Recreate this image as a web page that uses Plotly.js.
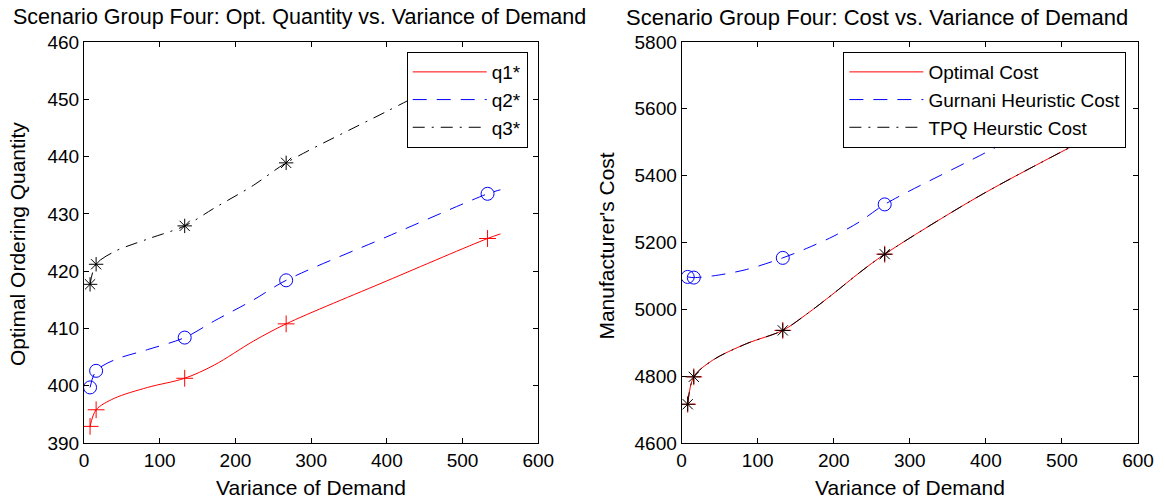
<!DOCTYPE html>
<html>
<head>
<meta charset="utf-8">
<script src="https://cdn.plot.ly/plotly-3.0.1.min.js"></script>
<style>
html, body { margin: 0; padding: 0; background: #fff; }
#chart { width: 1165px; height: 500px; }
</style>
</head>
<body>
<div id="chart"></div>
<script>
// ---------- Left panel: optimal ordering quantities ----------
var varX = [8, 16, 133, 267, 533];
var q1 = [392.9, 395.8, 401.3, 410.8, 425.7];
var q2 = [399.7, 402.6, 408.4, 418.4, 433.5];
var q3 = [417.7, 421.2, 427.9, 438.9, 456.8];

// points read along the drawn (smooth) curves
var curveX = [8, 16, 40, 84, 133, 172, 224, 267, 400, 533, 550];
var q1Curve = [392.9, 395.8, 397.8, 399.7, 401.3, 403.6, 407.8, 410.8, 418.3, 425.7, 426.5];
var q2Curve = [399.7, 402.6, 404.5, 406.3, 408.4, 411.3, 415.0, 418.4, 426.0, 433.5, 434.2];
var q3Curve = [417.7, 421.2, 423.4, 425.6, 427.9, 431.0, 435.0, 438.9, 447.9, 456.8, 457.9];

// ---------- Right panel: costs ----------
var costX = [8, 16, 133, 267, 533];
var optCost = [4716, 4798, 4937, 5165, 5511];
var gurnaniCost = [5097, 5095, 5154, 5314, 5625];
var tpqCost = [4716, 4798, 4937, 5165, 5511];

var costCurveX = [8, 16, 41, 85, 133, 164, 199, 234, 267, 392, 533];
var optCostCurve = [4716, 4798, 4848, 4897, 4937, 4985, 5046, 5110, 5165, 5340, 5511];
var gurnaniCurve = [5097, 5095, 5100, 5119, 5154, 5182, 5218, 5262, 5314, 5460, 5625];
var tpqCostCurve = [4716, 4798, 4848, 4897, 4937, 4985, 5046, 5110, 5165, 5340, 5511];

var leftLegend = ['q1*', 'q2*', 'q3*'];
var rightLegend = ['Optimal Cost', 'Gurnani Heuristic Cost', 'TPQ Heurstic Cost'];

var FONT = 'Liberation Sans, Arial, Helvetica, sans-serif';
var RED = '#ff0000', BLUE = '#0000ff', BLACK = '#000000';
var DASH = '14px,10px';
var DASHDOT = '12px,7px,2px,7px';

function lineTrace(x, y, name, color, dash, xa, ya, leg) {
  return {x: x, y: y, name: name, type: 'scatter', mode: 'lines',
    line: {color: color, width: 1, dash: dash, shape: 'spline', smoothing: 0.9},
    xaxis: xa, yaxis: ya, legend: leg, hoverinfo: 'skip'};
}
function markTrace(x, y, color, symbol, size, xa, ya) {
  return {x: x, y: y, type: 'scatter', mode: 'markers', showlegend: false,
    marker: {symbol: symbol, size: size, color: color, line: {color: color, width: 1}},
    xaxis: xa, yaxis: ya, hoverinfo: 'skip'};
}

var traces = [
  lineTrace(curveX, q1Curve, leftLegend[0], RED, 'solid', 'x', 'y', 'legend'),
  lineTrace(curveX, q2Curve, leftLegend[1], BLUE, DASH, 'x', 'y', 'legend'),
  lineTrace(curveX, q3Curve, leftLegend[2], BLACK, DASHDOT, 'x', 'y', 'legend'),
  markTrace(varX, q1, RED, 'cross-thin-open', 12, 'x', 'y'),
  markTrace(varX, q2, BLUE, 'circle-open', 13, 'x', 'y'),
  markTrace(varX, q3, BLACK, 'asterisk-open', 12, 'x', 'y'),

  lineTrace(costCurveX, optCostCurve, rightLegend[0], RED, 'solid', 'x2', 'y2', 'legend2'),
  lineTrace(costCurveX, gurnaniCurve, rightLegend[1], BLUE, DASH, 'x2', 'y2', 'legend2'),
  lineTrace(costCurveX, tpqCostCurve, rightLegend[2], BLACK, DASHDOT, 'x2', 'y2', 'legend2'),
  markTrace(costX, optCost, RED, 'cross-thin-open', 12, 'x2', 'y2'),
  markTrace(costX, gurnaniCost, BLUE, 'circle-open', 13, 'x2', 'y2'),
  markTrace(costX, tpqCost, BLACK, 'asterisk-open', 12, 'x2', 'y2')
];

function axisBase(extra) {
  var a = {showgrid: false, zeroline: false, showline: true, linecolor: '#000', linewidth: 1,
    mirror: 'ticks', ticks: 'inside', ticklen: 5, tickwidth: 1, tickcolor: '#000',
    tickfont: {family: FONT, size: 19, color: '#000'}, fixedrange: true};
  for (var k in extra) a[k] = extra[k];
  return a;
}

var legendBase = {bgcolor: '#ffffff', bordercolor: '#000', borderwidth: 1,
  font: {family: FONT, size: 19, color: '#000'}, xanchor: 'right', yanchor: 'top',
  tracegroupgap: 0, itemwidth: 74};

function ann(text, x, y, angle, size) {
  return {text: text, xref: 'paper', yref: 'paper', x: x, y: y, showarrow: false,
    xanchor: 'center', yanchor: 'middle', textangle: angle || 0,
    font: {family: FONT, size: size, color: '#000'}};
}

var layout = {
  width: 1165, height: 500,
  margin: {l: 84, r: 27, t: 42, b: 57},
  paper_bgcolor: '#fff', plot_bgcolor: '#fff',
  showlegend: true,
  xaxis: axisBase({domain: [0, 0.431], range: [0, 600], dtick: 100, tick0: 0, anchor: 'y'}),
  yaxis: axisBase({domain: [0, 1], range: [390, 460], dtick: 10, tick0: 390, anchor: 'x'}),
  xaxis2: axisBase({domain: [0.567, 1], range: [0, 600], dtick: 100, tick0: 0, anchor: 'y2'}),
  yaxis2: axisBase({domain: [0, 1], range: [4600, 5800], dtick: 200, tick0: 4600, anchor: 'x2'}),
  legend: Object.assign({}, legendBase, {x: 0.421, y: 0.975}),
  legend2: Object.assign({}, legendBase, {x: 0.989, y: 0.975}),
  annotations: [
    ann('Scenario Group Four: Opt. Quantity vs. Variance of Demand', 0.204, 1.062, 0, 21.5),
    ann('Scenario Group Four: Cost vs. Variance of Demand', 0.7528, 1.062, 0, 22),
    ann('Variance of Demand', 0.2155, -0.11, 0, 21),
    ann('Variance of Demand', 0.7837, -0.11, 0, 21),
    ann('Optimal Ordering Quantity', -0.0636, 0.496, -90, 21),
    ann("Manufacturer's Cost", 0.4953, 0.49, -90, 21)
  ]
};

Plotly.newPlot('chart', traces, layout, {staticPlot: true, displayModeBar: false});
</script>
</body>
</html>
